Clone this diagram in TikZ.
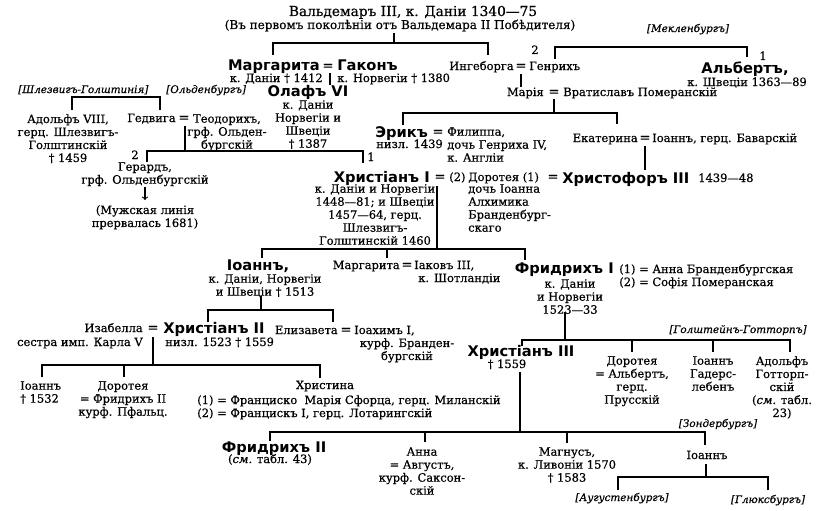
\documentclass[tikz,border=0pt]{standalone}
\usepackage{fontspec}
\setmainfont{DejaVu Serif}[FakeBold=0.6]
\newfontfamily\nmfam{DejaVu Sans}
\begin{document}
\begin{tikzpicture}[x=0.75pt,y=-0.75pt,
 tx/.style={font=\fontsize{8.6}{9.75}\selectfont, inner sep=0pt, align=center},
 txl/.style={tx, align=left},
 nm/.style={font=\nmfam\bfseries\fontsize{11}{12}\selectfont, inner sep=0pt},
 hs/.style={font=\itshape\fontsize{7.8}{9.75}\selectfont, inner sep=0pt},
 eqs/.style={font=\fontsize{10}{10}\selectfont, inner sep=0pt, anchor=base},
 ln/.style={line width=0.8pt}]
\useasboundingbox (0,0) rectangle (830,510);
% top
\node[tx,anchor=base,font=\fontsize{10.3}{11}\selectfont] (v1) at (413,16) {Вальдемаръ III, к. Даніи 1340—75};
\node[tx,anchor=base,font=\fontsize{9}{10}\selectfont] (v2) at (400,29) {(Въ первомъ поколѣніи отъ Вальдемара II Побѣдителя)};
\node[hs,anchor=base] (mek) at (688,32) {[Мекленбургъ]};
\draw[ln] (394,33) -- (394,43);
\draw[ln] (273,55) -- (273,43) -- (488,43) -- (488,55);
\draw[ln] (555,59) -- (555,47) -- (747,47) -- (747,57);
\node[tx,anchor=base] (n2a) at (535,54) {2};
\node[tx,anchor=base] (n1a) at (763,60) {1};
% Margarita
\node[nm,anchor=base east] (marg) at (320,70) {Маргарита};
\node[eqs] (e1) at (328,70) {=};
\node[nm,anchor=base west] (hak) at (337,70) {Гаконъ};
\node[tx,anchor=base east] (marg2) at (323,82) {к. Даніи † 1412};
\node[tx,anchor=base west] (hak2) at (337,82) {к. Норвегіи † 1380};
\draw[ln] (330,73) -- (330,85);
\node[nm,anchor=base] (olaf) at (308,96) {Олафъ VI};
\node[tx,anchor=north] (olaf2) at (308,100) {к. Даніи\\Норвегіи и\\Швеціи\\† 1387};
% Ingeborga
\node[tx,anchor=base east] (ing) at (514,70) {Ингеборга};
\node[eqs] (e2) at (521,70) {=};
\node[tx,anchor=base west] (hen) at (529,70) {Генрихъ};
\draw[ln] (521,74) -- (521,87);
\node[nm,anchor=base] (alb) at (745,74) {Альбертъ,};
\node[tx,anchor=base] (alb2) at (747,86) {к. Швеціи 1363—89};
\node[tx,anchor=base east] (mar) at (544,96) {Марія};
\node[eqs] (e3) at (554,96) {=};
\node[tx,anchor=base west] (vrat) at (563,96) {Вратиславъ Померанскій};
\draw[ln] (554,99) -- (554,113);
\draw[ln] (403,125) -- (403,113) -- (617,113) -- (617,124);
% left houses
\node[hs,anchor=base west] (shl) at (18,93) {[Шлезвигъ-Голштинія]};
\node[hs,anchor=base west] (old) at (166,93) {[Ольденбургъ]};
\draw[ln] (72,110) -- (72,97) -- (160,97) -- (160,110);
\node[tx,anchor=north] (ado) at (68,114) {Адольфъ VIII,\\герц. Шлезвигъ-\\Голштинскій\\† 1459};
\node[tx,anchor=base east] (ged) at (176,122) {Гедвига};
\node[eqs] (e4) at (184,122) {=};
\node[tx,anchor=north] (teo) at (227,114) {Теодорихъ,\\грф. Ольден-\\бургскій};
\draw[ln] (185,126) -- (185,151);
\draw[ln] (147,162) -- (147,151) -- (363,151) -- (363,163);
\node[tx,anchor=base] (n2b) at (135,159) {2};
\node[tx,anchor=base] (n1b) at (371,161) {1};
\node[tx,anchor=north] (ger) at (145,162) {Герардъ,\\грф. Ольденбургскій};
\draw[ln,->] (145,187) -- (145,200);
\node[tx,anchor=north] (ger2) at (145,205) {(Мужская линія\\прервалась 1681)};
% Erik
\node[nm,anchor=base west] (erik) at (375,137) {Эрикъ};
\node[eqs] (e5) at (438,136) {=};
\node[txl,anchor=north west] (fil) at (447,127) {Филиппа,\\дочь Генриха IV,\\к. Англіи};
\node[tx,anchor=base west] (erik2) at (376,148) {низл. 1439};
\node[tx,anchor=base east] (kat) at (638,142) {Екатерина};
\node[eqs] (e6) at (645,142) {=};
\node[tx,anchor=base west] (ioa1) at (652,142) {Іоаннъ, герц. Баварскій};
\draw[ln] (645,146) -- (645,170);
\node[nm,anchor=base west] (chr3) at (562,183) {Христофоръ III};
\node[tx,anchor=base west] (chr3b) at (698,182) {1439—48};
% Christian I
\node[nm,anchor=base east] (ch1) at (430,182) {Христіанъ I};
\node[eqs] (e8) at (440,181) {=};
\node[tx,anchor=base west] (dor0) at (449,181) {(2)};
\node[tx,anchor=base west] (dor) at (468,181) {Доротея (1)};
\node[eqs] (e7) at (553,181) {=};
\node[tx,anchor=north] (ch1b) at (375,184) {к. Даніи и Норвегіи\\1448—81; и Швеціи\\1457—64, герц.\\Шлезвигъ-\\Голштинскій 1460};
\node[txl,anchor=north west] (dor2) at (468,184) {дочь Іоанна\\Алхимика\\Бранденбург-\\скаго};
\draw[ln] (437,186) -- (437,249);
\draw[ln] (262,258) -- (262,249) -- (525,249) -- (525,260);
\draw[ln] (387,249) -- (387,258);
% Ioann
\node[nm,anchor=base] (ioa) at (258,270) {Іоаннъ,};
\node[tx,anchor=north] (ioa2) at (265,274) {к. Даніи, Норвегіи\\и Швеціи † 1513};
\draw[ln] (261,296) -- (261,310);
\draw[ln] (208,322) -- (208,310) -- (333,310) -- (333,322);
\node[tx,anchor=base east] (mg2) at (400,269) {Маргарита};
\node[eqs] (e9) at (407,269) {=};
\node[tx,anchor=base west] (jak) at (414,269) {Іаковъ III,};
\node[tx,anchor=base west] (jak2) at (418,282) {к. Шотландіи};
% Fr I
\node[nm,anchor=base east] (fr1) at (614,273) {Фридрихъ I};
\node[tx,anchor=base west] (fr1a) at (619,273) {(1) = Анна Бранденбургская};
\node[tx,anchor=base west] (fr1b) at (619,286) {(2) = Софія Померанская};
\node[tx,anchor=north] (fr1c) at (570,279) {к. Даніи\\и Норвегіи\\1523—33};
\draw[ln] (565,312) -- (565,340);
\draw[ln] (522,346) -- (522,340) -- (790,340) -- (790,352);
\draw[ln] (632,340) -- (632,352);
\draw[ln] (713,340) -- (713,352);
\node[hs,anchor=base] (hg) at (738,333) {[Голштейнъ-Готторпъ]};
\node[nm,anchor=base] (ch3) at (521,356) {Христіанъ III};
\node[tx,anchor=base] (ch3b) at (507,368) {† 1559};
\draw[ln] (520,372) -- (520,432);
\node[tx,anchor=north] (dor3) at (632,356) {Доротея\\= Альбертъ,\\герц.\\Прусскій};
\node[tx,anchor=north] (ioa3) at (713,356) {Іоаннъ\\Гадерс-\\лебенъ};
\node[tx,anchor=north] (ado2) at (782,356) {Адольфъ\\Готторп-\\скій\\(\textit{см.} табл.\\23)};
% Christian II
\node[tx,anchor=base east] (isa) at (143,332) {Изабелла};
\node[eqs] (e10) at (153,332) {=};
\node[nm,anchor=base west] (ch2) at (163,333) {Христіанъ II};
\node[tx,anchor=base east] (isa2) at (143,346) {сестра имп. Карла V};
\node[tx,anchor=base west] (ch2b) at (165,346) {низл. 1523 † 1559};
\draw[ln] (153,337) -- (153,365);
\node[tx,anchor=base east] (eli) at (338,334) {Елизавета};
\node[eqs] (e11) at (346,334) {=};
\node[tx,anchor=base west] (ioah) at (354,334) {Іоахимъ I,};
\node[tx,anchor=north] (ioah2) at (407,338) {курф. Бранден-\\бургскій};
\draw[ln] (42,377) -- (42,365) -- (320,365) -- (320,378);
\draw[ln] (124,365) -- (124,377);
\node[txl,anchor=north west] (ioa4) at (20,381) {Іоаннъ\\† 1532};
\node[tx,anchor=north] (dor4) at (123,381) {Доротея\\= Фридрихъ II\\курф. Пфальц.};
\node[tx,anchor=base] (hri) at (325,389) {Христина};
\node[tx,anchor=base west] (hri2) at (197,404) {(1) = Франциско\ \ Марія Сфорца, герц. Миланскій};
\node[tx,anchor=base west] (hri3) at (197,417) {(2) = Францискъ I, герц. Лотарингскій};
% bottom
\draw[ln] (270,441) -- (270,432) -- (705,432) -- (705,445);
\draw[ln] (425,432) -- (425,442);
\draw[ln] (567,432) -- (567,443);
\node[hs,anchor=base] (zon) at (718,427) {[Зондербургъ]};
\node[nm,anchor=base] (fr2) at (274,452) {Фридрихъ II};
\node[tx,anchor=base] (fr2b) at (270,463) {(\textit{см.} табл. 43)};
\node[tx,anchor=north] (ann) at (422,447) {Анна\\= Августъ,\\курф. Саксон-\\скій};
\node[tx,anchor=north] (mag) at (567,447) {Магнусъ,\\к. Ливоніи 1570\\† 1583};
\node[tx,anchor=base] (ioa5) at (707,459) {Іоаннъ};
\draw[ln] (706,464) -- (706,477);
\draw[ln] (618,490) -- (618,477) -- (768,477) -- (768,490);
\node[hs,anchor=base] (aug) at (622,501) {[Аугустенбургъ]};
\node[hs,anchor=base] (glu) at (768,503) {[Глюксбургъ]};
\end{tikzpicture}
\end{document}
